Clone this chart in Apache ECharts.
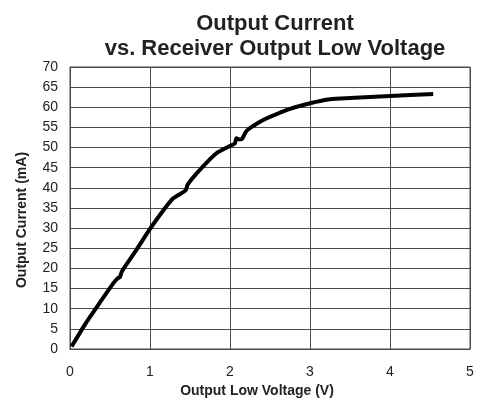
<!DOCTYPE html>
<html>
<head>
<meta charset="utf-8">
<script src="https://cdn.jsdelivr.net/npm/echarts@6/dist/echarts.min.js"></script>
<style>
  html, body { margin: 0; padding: 0; background: #fff; }
  #chart { width: 478px; height: 405px; }
</style>
</head>
<body>
<div id="chart"></div>
<script>
// output low voltage (V) vs output current (mA)
const voltage = [0.02, 0.2, 0.4, 0.54, 0.57, 0.6, 0.625, 0.65, 0.83, 1.0, 1.17, 1.29, 1.42, 1.45, 1.47, 1.62, 1.83, 2.0, 2.06, 2.08, 2.12, 2.15, 2.21, 2.375, 2.5, 2.75, 3.0, 3.25, 3.5, 4.0, 4.54];
const current = [0.6, 6.5, 12.3, 16.3, 17.0, 17.6, 17.9, 19.3, 24.6, 29.8, 34.5, 37.4, 39.0, 39.5, 40.8, 44.4, 48.6, 50.4, 51.0, 52.3, 52.0, 52.1, 54.2, 56.4, 57.6, 59.6, 61.0, 62.0, 62.3, 62.8, 63.3];

const chart = echarts.init(document.getElementById("chart"));

const gridColor = "#4a4a4a";
const font = "Liberation Sans, Arial, sans-serif";

chart.setOption({
  animation: false,
  title: {
    text: "Output Current\nvs. Receiver Output Low Voltage",
    left: 270,
    textAlign: "center",
    top: 6,
    textStyle: { fontFamily: font, fontSize: 22, fontWeight: "bold", color: "#222", lineHeight: 25 }
  },
  grid: { show: true, borderColor: gridColor, borderWidth: 1, left: 70, right: 8, top: 67, bottom: 56 },
  xAxis: {
    type: "value",
    min: 0, max: 5, interval: 1,
    name: "Output Low Voltage (V)",
    nameLocation: "middle",
    nameGap: 30,
    nameTextStyle: { fontFamily: font, fontSize: 14, fontWeight: "bold", color: "#222", padding: [0, 26, 0, 0] },
    axisLine: { lineStyle: { color: gridColor } },
    axisTick: { show: false },
    axisLabel: { fontFamily: font, fontSize: 14, color: "#222", margin: 16 },
    splitLine: { lineStyle: { color: gridColor, width: 1 } }
  },
  yAxis: {
    type: "value",
    min: 0, max: 70, interval: 5,
    name: "Output Current (mA)",
    nameLocation: "middle",
    nameGap: 41,
    nameTextStyle: { fontFamily: font, fontSize: 14, fontWeight: "bold", color: "#222", padding: [0, 24, 0, 0] },
    axisLine: { show: true, lineStyle: { color: gridColor } },
    axisTick: { show: false },
    axisLabel: { fontFamily: font, fontSize: 14, color: "#222", margin: 12 },
    splitLine: { lineStyle: { color: gridColor, width: 1 } }
  },
  series: [{
    type: "line",
    data: voltage.map((v, i) => [v, current[i]]),
    showSymbol: false,
    smooth: 0.2,
    lineStyle: { color: "#000", width: 4 }
  }]
});
</script>
</body>
</html>
